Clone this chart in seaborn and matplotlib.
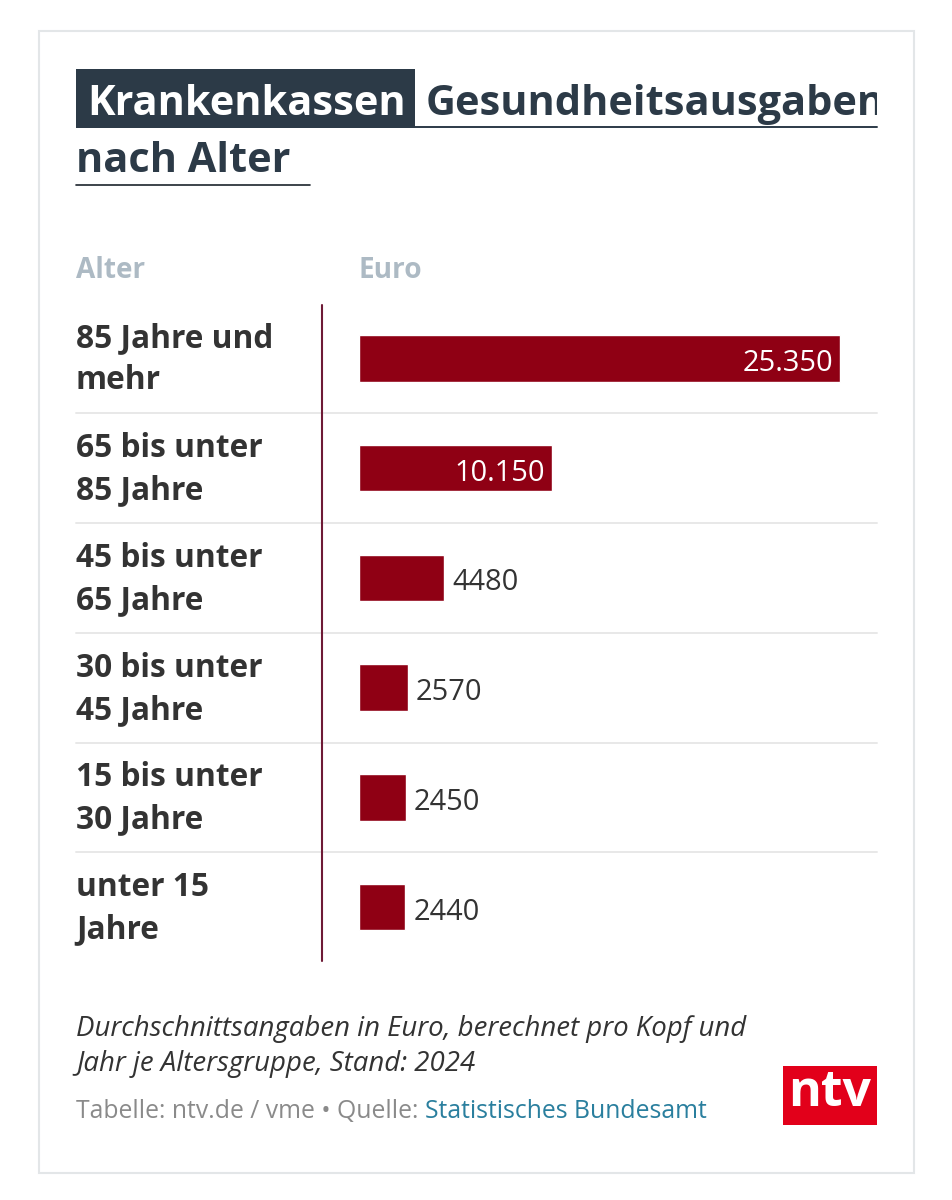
import matplotlib
matplotlib.use("Agg")
import matplotlib.pyplot as plt
from matplotlib.lines import Line2D
from matplotlib.patches import Rectangle
from matplotlib.transforms import Bbox, ScaledTranslation
import pandas as pd
import seaborn as sns

# Data
age_groups = [
    "85 Jahre und\nmehr",
    "65 bis unter\n85 Jahre",
    "45 bis unter\n65 Jahre",
    "30 bis unter\n45 Jahre",
    "15 bis unter\n30 Jahre",
    "unter 15\nJahre",
]
euro_values = [25350, 10150, 4480, 2570, 2450, 2440]

WIDTH, HEIGHT = 953, 1200
DARK = "#2c3a47"
BAR_RED = "#8f0014"
TEXT = "#333333"

sns.set_style("white")
plt.rcParams["font.family"] = ["Open Sans", "DejaVu Sans"]

fig = plt.figure(figsize=(WIDTH / 100, HEIGHT / 100), dpi=100, facecolor="white")


def fx(px):
    return px / WIDTH


def fy(px):
    return 1 - px / HEIGHT


def pt(px):
    # font size given in pixels
    return px * 0.72


def box(x0, y0, x1, y1, **kwargs):
    fig.add_artist(Rectangle((fx(x0), fy(y1)), (x1 - x0) / WIDTH, (y1 - y0) / HEIGHT,
                             transform=fig.transFigure, **kwargs))


def hline(x0, x1, y, color, lw):
    fig.add_artist(Line2D([fx(x0), fx(x1)], [fy(y), fy(y)], color=color, lw=lw,
                          transform=fig.transFigure))


def label(x, y, s, **kwargs):
    return fig.text(fx(x), fy(y), s, va="baseline", **kwargs)


# Card around everything
box(38.5, 30.5, 914.5, 1173, facecolor="white", edgecolor="#e3e6e8", lw=1.5, zorder=-5)

# Title block
box(76, 69, 415, 128, facecolor=DARK, edgecolor="none")
hline(415, 877, 127, DARK, 1.4)
hline(76, 310, 184.5, "#1b242c", 1.2)
label(87, 115, "Krankenkassen", color="white", fontsize=pt(41.5), fontweight="bold")
title = label(426, 115, "Gesundheitsausgaben", color=DARK, fontsize=pt(41.5), fontweight="bold")
# the word runs out of the box in the original and gets cut at the right edge
title.set_clip_box(Bbox([[0, 0], [877, HEIGHT]]))
title.set_clip_on(True)
label(76, 172, "nach Alter", color=DARK, fontsize=pt(41.5), fontweight="bold")

# Column heads
label(76, 278, "Alter", color="#adbac4", fontsize=pt(28), fontweight="bold")
label(359, 278, "Euro", color="#adbac4", fontsize=pt(28), fontweight="bold")

# Bars: 480 px stand for the largest value
px_per_euro = 480.8 / max(euro_values)
ax_left, ax_right, ax_top, ax_bottom = 359.2, 877, 303.6, 962
ax = fig.add_axes([fx(ax_left), fy(ax_bottom), (ax_right - ax_left) / WIDTH,
                   (ax_bottom - ax_top) / HEIGHT])
ax.patch.set_visible(False)

df = pd.DataFrame({"group": age_groups, "euro": euro_values})
sns.barplot(data=df, x="euro", y="group", color=BAR_RED, saturation=1, width=0.424, ax=ax)

ax.set_xlim(0, (ax_right - ax_left) / px_per_euro)
ax.set_ylim(5.5, -0.5)
ax.set_xlabel("")
ax.set_ylabel("")
ax.set_xticks([])
sns.despine(ax=ax, left=True, bottom=True)

# Category labels stay real tick labels, left aligned at x=76
ax.tick_params(axis="y", length=0, pad=(ax_left - 76) * 0.72)
shift_up = ScaledTranslation(0, 7 / 100, fig.dpi_scale_trans)
for tick in ax.get_yticklabels():
    tick.set_horizontalalignment("left")
    tick.set_fontsize(pt(31.6))
    tick.set_fontweight("bold")
    tick.set_color(TEXT)
    tick.set_linespacing(1.36)
    tick.set_transform(tick.get_transform() + shift_up)

# Row separators and the vertical rule in front of the bars
for i in range(len(age_groups) - 1):
    ax.axhline(i + 0.5, xmin=(76 - ax_left) / (ax_right - ax_left), xmax=1,
               color="#e8e8e8", lw=1.4, clip_on=False, zorder=0)
ax.axvline(-37.2 / px_per_euro, ymin=1 / (ax_bottom - ax_top),
           ymax=1 - 1.4 / (ax_bottom - ax_top), color="#6e1a36", lw=1.5, clip_on=False)

for i, value in enumerate(euro_values):
    text = f"{value:,}".replace(",", ".") if value >= 10000 else str(value)
    inside = value >= 10000
    ax.annotate(text, (value, i), xytext=(-7 if inside else 8, -5), textcoords="offset pixels",
                ha="right" if inside else "left", va="center",
                color="white" if inside else TEXT, fontsize=pt(29))

# Notes under the chart
label(76, 1036, "Durchschnittsangaben in Euro, berechnet pro Kopf und",
      color=TEXT, fontsize=pt(27.6), fontstyle="italic")
label(76, 1071, "Jahr je Altersgruppe, Stand: 2024",
      color=TEXT, fontsize=pt(27.6), fontstyle="italic")
label(76, 1118, "Tabelle: ntv.de / vme • Quelle:", color="#8a8a8a", fontsize=pt(24.8))
label(425, 1118, "Statistisches Bundesamt", color="#2a7f9e", fontsize=pt(24.8))

# ntv logo
box(783, 1066, 877, 1125, facecolor="#e2001a", edgecolor="none")
fig.text(fx(830), fy(1093), "ntv", color="white", fontsize=pt(50), fontweight="bold",
         ha="center", va="center")

fig.savefig("out.png", dpi=100)
